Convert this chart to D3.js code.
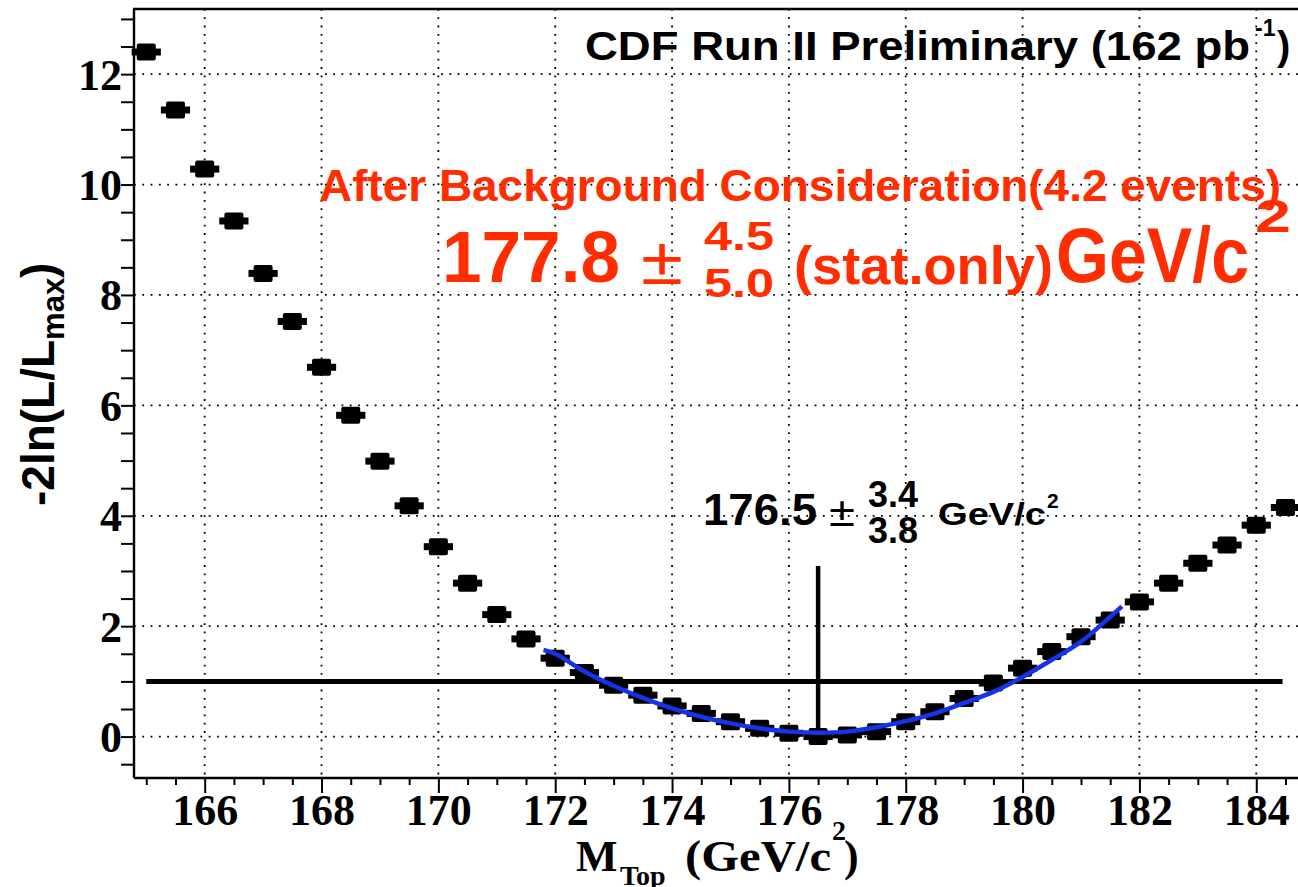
<!DOCTYPE html>
<html><head><meta charset="utf-8">
<script src="https://cdn.jsdelivr.net/npm/d3@7"></script>
<style>html,body{margin:0;padding:0;background:#fff;overflow:hidden}</style>
</head><body>
<svg id="c" width="1298" height="887"></svg>
<script>
// ---- data ----
const massPoints = [165,165.5,166,166.5,167,167.5,168,168.5,169,169.5,170,170.5,171,171.5,172,172.5,173,173.5,174,174.5,175,175.5,176,176.5,177,177.5,178,178.5,179,179.5,180,180.5,181,181.5,182,182.5,183,183.5,184,184.5];
const nllValues = [12.40,11.35,10.28,9.34,8.39,7.52,6.69,5.82,4.99,4.18,3.44,2.78,2.21,1.77,1.42,1.16,0.93,0.75,0.555,0.42,0.27,0.15,0.06,0.0,0.03,0.09,0.27,0.45,0.69,0.97,1.24,1.54,1.81,2.11,2.44,2.78,3.14,3.47,3.83,4.15];
const binHalfWidth = 0.25;
const fitMass = [171.8,172,172.5,173,173.5,174,174.5,175,175.5,176,176.5,177,177.5,178,178.5,179,179.5,180,180.5,181,181.5,181.7];
const fitValues = [1.57,1.50,1.18,0.92,0.70,0.51,0.36,0.24,0.15,0.09,0.07,0.09,0.17,0.28,0.42,0.61,0.81,1.08,1.39,1.72,2.17,2.36];
const xMajorTicks = [166,168,170,172,174,176,178,180,182,184];
const yMajorTicks = [0,2,4,6,8,10,12];
const oneSigmaLevel = 1;
const oneSigmaRange = [165, 184.45];
const bestMass = 176.5;
const bestMarkerTop = 3.09;
const title = "CDF Run II Preliminary (162 pb";
const bgTitle = "After Background Consideration(4.2 events)";
const bgResult = {central:"177.8", up:"4.5", down:"5.0", note:"(stat.only)", unit:"GeV/c", pow:"2"};
const fitResult = {central:"176.5", up:"3.4", down:"3.8", unit:"GeV/c", pow:"2"};

// ---- layout ----
const svg = d3.select("#c");
const L = 134, T = 9, B = 778, R = 1303;
const x = d3.scaleLinear().domain([164.79, 184.8]).range([L, R]);
const y = d3.scaleLinear().domain([-0.75, 13.18]).range([B, T]);
const RED = "#ff2d00", BLUE = "#1533e8";
const SANS = "'Liberation Sans', Arial, sans-serif";
const SERIF = "'Liberation Serif', 'Times New Roman', serif";

// grid
const grid = svg.append("g").attr("stroke","#000").attr("stroke-width",1.8).attr("stroke-dasharray","1.8 6.5");
grid.selectAll("line.v").data(xMajorTicks).join("line")
  .attr("x1",d=>x(d)).attr("x2",d=>x(d)).attr("y1",T).attr("y2",B);
grid.selectAll("line.h").data(yMajorTicks).join("line")
  .attr("x1",L).attr("x2",R).attr("y1",d=>y(d)).attr("y2",d=>y(d));

// axes
const xMinor = d3.range(165, 185, 0.5).filter(v => !xMajorTicks.includes(v));
const yMinor = d3.range(-0.5, 13.01, 0.5).filter(v => !yMajorTicks.includes(v));
const gx = svg.append("g").attr("transform",`translate(0,${B})`);
gx.call(d3.axisBottom(x).tickValues(xMajorTicks).tickSize(15).tickPadding(3).tickFormat(d3.format("d")));
const gxm = svg.append("g").attr("transform",`translate(0,${B})`);
gxm.call(d3.axisBottom(x).tickValues(xMinor).tickSize(7).tickFormat(""));
gxm.select(".domain").remove();
const gy = svg.append("g").attr("transform",`translate(${L},0)`);
gy.call(d3.axisLeft(y).tickValues(yMajorTicks).tickSize(13).tickPadding(0).tickFormat(d3.format("d")));
const gym = svg.append("g").attr("transform",`translate(${L},0)`);
gym.call(d3.axisLeft(y).tickValues(yMinor).tickSize(13).tickFormat(""));
gym.select(".domain").remove();
svg.selectAll(".tick line").attr("stroke","#000").attr("stroke-width",2);
svg.selectAll(".domain").attr("stroke","#000").attr("stroke-width",2.4);
gx.selectAll(".domain").attr("d",`M${L},0H${R}`);
gy.selectAll(".domain").attr("d",`M0,${B}V${T}`);
gx.selectAll(".tick text").attr("font-family",SERIF).attr("font-weight","bold").attr("font-size",44).attr("fill","#000").attr("dy","0.66em");
gy.selectAll(".tick text").attr("font-family",SERIF).attr("font-weight","bold").attr("font-size",44).attr("fill","#000").attr("x",-12).attr("dy","0.34em");
// top frame
svg.append("line").attr("x1",L-1).attr("x2",R).attr("y1",T).attr("y2",T).attr("stroke","#000").attr("stroke-width",2.4);
svg.append("line").attr("x1",R).attr("x2",R).attr("y1",T).attr("y2",B).attr("stroke","#000").attr("stroke-width",2.4);

// one-sigma line and best-fit marker line
svg.append("line").attr("x1",x(oneSigmaRange[0])).attr("x2",x(oneSigmaRange[1]))
  .attr("y1",y(oneSigmaLevel)).attr("y2",y(oneSigmaLevel)).attr("stroke","#000").attr("stroke-width",5);
svg.append("line").attr("x1",x(bestMass)).attr("x2",x(bestMass))
  .attr("y1",y(bestMarkerTop)).attr("y2",y(0)).attr("stroke","#000").attr("stroke-width",4.5);

// points
const pts = massPoints.map((m,i)=>({m, v:nllValues[i]}));
const pg = svg.append("g").attr("fill","#000");
pg.selectAll("rect.bar").data(pts).join("rect")
  .attr("x",d=>x(d.m-binHalfWidth)).attr("width",d=>x(d.m+binHalfWidth)-x(d.m-binHalfWidth))
  .attr("y",d=>y(d.v)-3.5).attr("height",7);
pg.selectAll("rect.mk").data(pts).join("rect")
  .attr("x",d=>x(d.m)-9.5).attr("width",19).attr("y",d=>y(d.v)-8.5).attr("height",17).attr("rx",2);

// fit curve
const line = d3.line().x(d=>x(d[0])).y(d=>y(d[1])).curve(d3.curveCatmullRom);
svg.append("path").datum(fitMass.map((m,i)=>[m,fitValues[i]])).attr("d",line)
  .attr("fill","none").attr("stroke",BLUE).attr("stroke-width",4.5);

// text helper
function txt(s, px, py, o){
  const t = svg.append("text").attr("x",px).attr("y",py).text(s)
    .attr("font-family",o.family||SANS).attr("font-size",o.size)
    .attr("font-weight",o.weight||"normal").attr("fill",o.fill||"#000");
  if(o.len){ t.attr("textLength",o.len).attr("lengthAdjust","spacingAndGlyphs"); }
  if(o.anchor) t.attr("text-anchor",o.anchor);
  return t;
}
// CDF label
txt(title, 585, 60, {size:40, weight:"bold", len:665});
txt("-1", 1255, 36, {size:23, weight:"bold"});
txt(")", 1277, 60, {size:40, weight:"bold"});

// red annotation
txt(bgTitle, 319, 201, {size:44, weight:"bold", fill:RED, len:962});
txt(bgResult.central, 442, 282, {size:73, weight:"bold", fill:RED, len:178});
txt("\u00b1", 641, 284, {size:66, fill:RED, len:42});
txt(bgResult.up, 704, 250, {size:40, weight:"bold", fill:RED, len:70});
txt(bgResult.down, 704, 297, {size:40, weight:"bold", fill:RED, len:70});
txt(bgResult.note, 794, 284, {size:54, weight:"bold", fill:RED, len:259});
txt(bgResult.unit, 1056, 282, {size:78, weight:"bold", fill:RED, len:193});
txt(bgResult.pow, 1255, 232, {size:46, weight:"bold", fill:RED, len:36});

// black annotation
txt(fitResult.central, 703, 525, {size:45, weight:"bold", len:114});
txt("\u00b1", 829, 526, {size:40, len:26});
txt(fitResult.up, 868, 507, {size:36, weight:"bold", len:50});
txt(fitResult.down, 868, 543, {size:36, weight:"bold", len:50});
txt(fitResult.unit, 938, 525, {size:32, weight:"bold", len:108});
txt(fitResult.pow, 1047, 508, {size:21, weight:"bold"});

// x axis title
const xt = svg.append("text").attr("font-family",SERIF).attr("font-weight","bold").attr("fill","#000");
xt.append("tspan").attr("x",576).attr("y",871).attr("font-size",44).text("M");
xt.append("tspan").attr("x",620).attr("y",885).attr("font-size",28).text("Top");
xt.append("tspan").attr("x",685).attr("y",871).attr("font-size",44).attr("textLength",146).attr("lengthAdjust","spacingAndGlyphs").text("(GeV/c");
xt.append("tspan").attr("x",832).attr("y",840).attr("font-size",28).text("2");
xt.append("tspan").attr("x",844).attr("y",871).attr("font-size",44).text(")");

// y axis title
const yt = svg.append("text").attr("font-family",SANS).attr("font-weight","bold").attr("fill","#000")
  .attr("transform","translate(54,506) rotate(-90)");
yt.append("tspan").attr("x",0).attr("y",0).attr("font-size",46).text("-2ln(L/L");
yt.append("tspan").attr("dy",10).attr("font-size",31).text("max");
yt.append("tspan").attr("dy",-10).attr("font-size",46).text(")");
</script>
</body></html>
